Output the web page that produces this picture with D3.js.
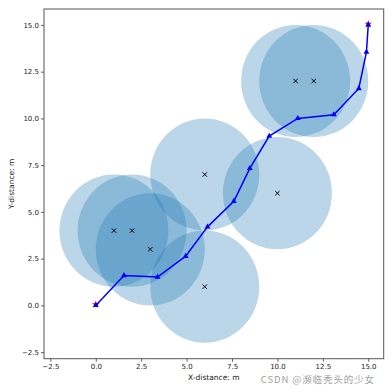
<!DOCTYPE html>
<html><head><meta charset="utf-8">
<script src="https://cdn.jsdelivr.net/npm/d3@7"></script>
<style>body{margin:0;background:#fff}svg{display:block}</style>
</head><body>
<svg id="c" width="392" height="392"></svg>
<script>
const anchorX = [1, 2, 3, 6, 6, 10, 11, 12];
const anchorY = [4, 4, 3, 1, 7, 6, 12, 12];
const radius = 3;
const pathX = [0, 1.55, 3.4, 4.95, 6.15, 7.6, 8.48, 9.55, 11.12, 13.1, 14.48, 14.9, 15];
const pathY = [0, 1.6, 1.52, 2.63, 4.2, 5.57, 7.33, 9.05, 10.0, 10.2, 11.6, 13.55, 15];
const endX = [0, 15];
const endY = [0, 15];
const xTicks = [-2.5, 0, 2.5, 5, 7.5, 10, 12.5, 15];
const yTicks = [-2.5, 0, 2.5, 5, 7.5, 10, 12.5, 15];
const xDomain = [-2.85, 15.85];
const yDomain = [-2.85, 15.85];

const svg = d3.select('#c');
const L = 44, R = 383.7, T = 9, B = 358.7;
const x = d3.scaleLinear().domain(xDomain).range([L, R]);
const y = d3.scaleLinear().domain(yDomain).range([B, T]);
const font = 'DejaVu Sans, sans-serif';

const plot = svg.append('g');
plot.selectAll('ellipse').data(anchorX).join('ellipse')
  .attr('cx', (d) => x(d)).attr('cy', (d, i) => y(anchorY[i]))
  .attr('rx', x(radius) - x(0)).attr('ry', y(0) - y(radius))
  .attr('fill', '#1f77b4').attr('fill-opacity', 0.3);

// anchors as x markers
const s = 2.2;
plot.selectAll('path.ax').data(anchorX).join('path').attr('class', 'ax')
  .attr('d', (d, i) => { const cx = x(d), cy = y(anchorY[i]);
    return `M${cx-s},${cy-s}L${cx+s},${cy+s}M${cx-s},${cy+s}L${cx+s},${cy-s}`; })
  .attr('stroke', '#000').attr('stroke-width', 1);

// red end markers
const st = d3.symbol().type(d3.symbolStar).size(18);
plot.selectAll('path.end').data(endX).join('path').attr('class', 'end')
  .attr('transform', (d, i) => `translate(${x(d)},${y(endY[i]) - 1})`)
  .attr('d', st).attr('fill', 'red');

// path
const line = d3.line().x((d) => x(d)).y((d, i) => y(pathY[i]));
plot.append('path').datum(pathX).attr('d', line)
  .attr('fill', 'none').attr('stroke', '#0000ff').attr('stroke-width', 1.5);
const tri = d3.symbol().type(d3.symbolTriangle).size(15);
plot.selectAll('path.tri').data(pathX).join('path').attr('class', 'tri')
  .attr('transform', (d, i) => `translate(${x(d)},${y(pathY[i])})`)
  .attr('d', tri).attr('fill', '#0000ff');

// axes
const xa = svg.append('g').attr('transform', `translate(0,${B})`)
  .call(d3.axisBottom(x).tickValues(xTicks).tickFormat(d3.format('.1f')).tickSizeOuter(0).tickSize(3).tickPadding(2));
const ya = svg.append('g').attr('transform', `translate(${L},0)`)
  .call(d3.axisLeft(y).tickValues(yTicks).tickFormat(d3.format('.1f')).tickSizeOuter(0).tickSize(3).tickPadding(2));
[xa, ya].forEach((g) => {
  g.select('.domain').remove();
  g.selectAll('line').attr('stroke', '#333').attr('stroke-width', 0.8);
  g.selectAll('text').attr('font-family', font).attr('font-size', 7).attr('fill', '#222');
});
xa.selectAll('text').text((d) => d3.format('.1f')(d).replace('-', '\u2212'));
ya.selectAll('text').text((d) => d3.format('.1f')(d).replace('-', '\u2212'));

svg.append('rect').attr('x', L).attr('y', T).attr('width', R - L).attr('height', B - T)
  .attr('fill', 'none').attr('stroke', '#555').attr('stroke-width', 1);

svg.append('text').attr('x', (L + R) / 2).attr('y', 380).attr('text-anchor', 'middle')
  .attr('font-family', font).attr('font-size', 7.5).attr('fill', '#222').text('X-distance: m');
svg.append('text').attr('transform', `translate(14,${(T + B) / 2}) rotate(-90)`).attr('text-anchor', 'middle')
  .attr('font-family', font).attr('font-size', 7.5).attr('fill', '#222').text('Y-distance: m');

svg.append('text').attr('x', 375).attr('y', 382.5).attr('text-anchor', 'end')
  .attr('font-family', 'Noto Sans CJK SC, sans-serif').attr('font-size', 9.5).attr('letter-spacing', 0.9)
  .attr('fill', '#a0a0a0')
  .text('CSDN @濒临秃头的少女');
</script>
</body></html>
